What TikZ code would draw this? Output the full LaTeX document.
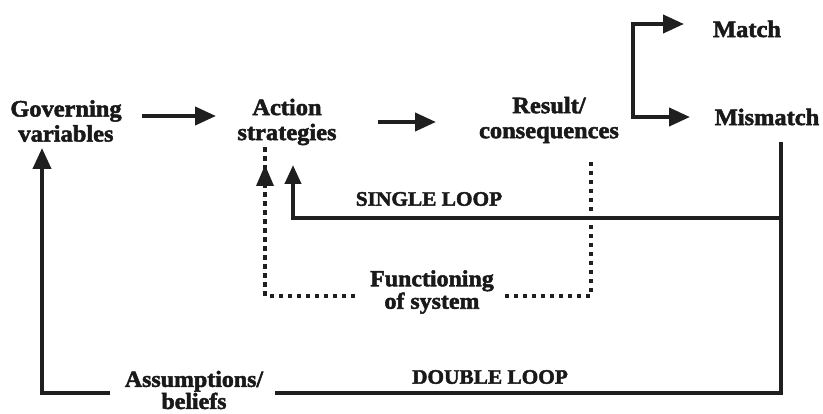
\documentclass[tikz,border=0pt]{standalone}
\usepackage{fontspec}
\setmainfont{Liberation Serif}[FakeStretch=1.04, BoldFeatures={FakeBold=2.2}]
\usetikzlibrary{arrows.meta}
\begin{document}
\begin{tikzpicture}[x=1pt,y=-1pt,
  lbl/.style={font=\fontsize{23.5}{25}\selectfont\bfseries, align=center, inner sep=0pt, text=black!90},
  looplbl/.style={font=\fontsize{20.5}{22}\selectfont\bfseries, inner sep=0pt, text=black!90},
  solidline/.style={line width=4pt, draw=black!88, line join=miter},
  dotline/.style={line width=4.5pt, draw=black!88, dash pattern=on 4.5pt off 4.5pt},
  arr/.style={-{Triangle[length=21pt,width=18pt]}},
  sarr/.style={-{Triangle[length=19pt,width=16pt]}}]
\useasboundingbox (0,0) rectangle (823,414);

% labels
\node[lbl] (gov) at (66,121) {Governing\\variables};
\node[lbl] (act) at (287,122) {Action\\strategies};
\node[lbl] (res) at (549,120) {Result/\\consequences};
\node[lbl] (match) at (747,29) {Match};
\node[lbl] (mis) at (767,117) {Mismatch};
\node[looplbl] (single) at (429,199) {SINGLE LOOP};
\node[looplbl] (double) at (490,377) {DOUBLE LOOP};
\node[lbl,font=\fontsize{23}{22.5}\selectfont\bfseries] (func) at (432,292) {Functioning\\of system};
\node[lbl,font=\fontsize{23}{21}\selectfont\bfseries] (assump) at (194,390) {Assumptions/\\beliefs};

% forward arrows
\coordinate (g1) at (142,116);
\coordinate (g2) at (216,116);
\coordinate (a1) at (378,122);
\coordinate (a2) at (436,122);
\draw[solidline,arr] (g1) -- (g2);
\draw[solidline,arr] (a1) -- (a2);

% match / mismatch bracket
\coordinate (bTop) at (633,24);
\coordinate (bBot) at (633,117);
\coordinate (mTip) at (684,24);
\coordinate (mmTip) at (690,117);
\draw[solidline,arr] (bBot) -- (bTop) -- (mTip);
\draw[solidline,arr] (bTop) -- (bBot) -- (mmTip);

% functioning of system (dotted)
\coordinate (fR) at (591,162);
\coordinate (fRB) at (591,296);
\coordinate (fL) at (265,296);
\coordinate (fTip) at (265,165);
\draw[dotline] (fR) -- (fRB) -- (502,296);
\draw[dotline] (355,296) -- (fL) -- ([yshift=19pt]fTip);
\fill[black!88] (fTip) -- ++(-9,21) -- ++(18,0) -- cycle;

% single loop
\coordinate (mR) at (781,142);
\coordinate (sR) at (781,218);
\coordinate (sL) at (293,218);
\coordinate (sTip) at (293,165);
\draw[solidline,sarr] (sR) -- (sL) -- (sTip);

% double loop
\coordinate (dR) at (781,393);
\coordinate (dL) at (42,393);
\coordinate (dTip) at (42,148);
\draw[solidline] (mR) -- (dR) -- (275,393);
\draw[solidline,arr] (110,393) -- (dL) -- (dTip);
\end{tikzpicture}
\end{document}
